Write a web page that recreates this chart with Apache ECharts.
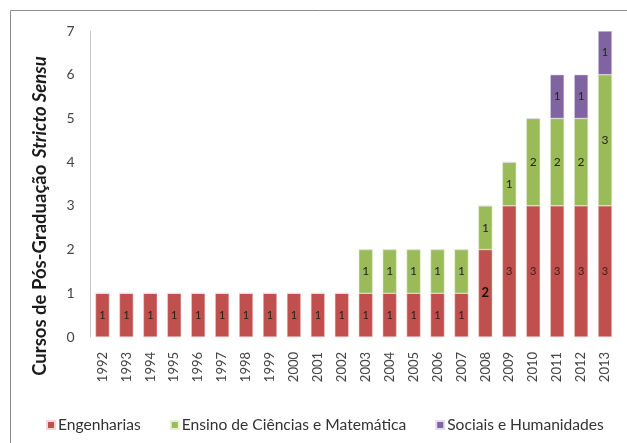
<!DOCTYPE html>
<html>
<head>
<meta charset="utf-8">
<script src="https://cdn.jsdelivr.net/npm/echarts@6/dist/echarts.min.js"></script>
<style>html,body{margin:0;padding:0;background:#fff;}#c{width:627px;height:443px;}</style>
</head>
<body>
<div id="c"></div>
<script>
var years = ['1992','1993','1994','1995','1996','1997','1998','1999','2000','2001','2002','2003','2004','2005','2006','2007','2008','2009','2010','2011','2012','2013'];
var engenharias = [1,1,1,1,1,1,1,1,1,1,1,1,1,1,1,1,2,3,3,3,3,3];
var ensino = [0,0,0,0,0,0,0,0,0,0,0,1,1,1,1,1,1,1,2,2,2,3];
var sociais = [0,0,0,0,0,0,0,0,0,0,0,0,0,0,0,0,0,0,0,1,1,1];
var seriesNames = ['Engenharias','Ensino de Ciências e Matemática','Sociais e Humanidades'];
var yTicks = [0,1,2,3,4,5,6,7];

var chart = echarts.init(document.getElementById('c'));
var font = 'Lato, "Liberation Sans", sans-serif';
function lbl(size){
  return {show:true, position:'inside', fontSize:size||11, color:'#222', fontFamily:font,
    formatter:function(p){return p.value ? String(p.value) : '';}};
}
var engData = engenharias.map(function(v,i){
  if (years[i]==='2008') return {value:v, label:{fontWeight:'bold', fontSize:13, color:'#111'}};
  if (v===3) return {value:v, label:{color:'#3e1b1a'}};
  return v;
});
chart.setOption({
  animation:false,
  grid:{left:90.5, right:10, top:31, bottom:106, containLabel:false},
  legend:{
    left:41, top:412, itemWidth:8, itemHeight:8, itemGap:29, icon:'rect',
    textStyle:{fontSize:15.6, color:'#333', fontFamily:font, padding:[0,0,0,-2]},
    data:seriesNames
  },
  xAxis:{
    type:'category', data:years,
    axisLine:{show:false}, axisTick:{show:false},
    axisLabel:{rotate:90, margin:15, fontSize:13, color:'#444', fontFamily:font}
  },
  yAxis:{
    type:'value', min:0, max:7, interval:1,
    splitLine:{show:false},
    axisLine:{show:true, lineStyle:{color:'#c8c8c8', width:1}},
    axisTick:{show:false},
    axisLabel:{margin:16, fontSize:14, color:'#444', fontFamily:font,
      formatter:function(v){return yTicks.indexOf(v)>=0 ? String(v) : '';}}
  },
  series:[
    {name:seriesNames[0], type:'bar', stack:'t', barWidth:'58%', data:engData,
     itemStyle:{color:'#C0504D', borderColor:'#f3d6d5', borderWidth:0.5}, label:lbl(11)},
    {name:seriesNames[1], type:'bar', stack:'t', barWidth:'58%', data:ensino,
     itemStyle:{color:'#9BBB59', borderColor:'#e6efd6', borderWidth:0.5}, label:lbl(12)},
    {name:seriesNames[2], type:'bar', stack:'t', barWidth:'58%', data:sociais,
     itemStyle:{color:'#8064A2', borderColor:'#e2dbea', borderWidth:0.5}, label:lbl(11)}
  ],
  graphic:[
    {type:'rect', silent:true, shape:{x:10.5, y:10.5, width:700, height:500},
     style:{fill:'none', stroke:'#8c8c8c', lineWidth:1}},
    {type:'text', silent:true, x:40, y:216, rotation:Math.PI/2,
     style:{
       text:'{a|Cursos de Pós-Graduação}  {b|Stricto Sensu}',
       align:'center', verticalAlign:'middle',
       rich:{
         a:{fontSize:18.5, fontWeight:'bold', fontFamily:font, fill:'#1a1a1a'},
         b:{fontSize:18.5, fontWeight:'bold', fontStyle:'italic', fontFamily:font, fill:'#1a1a1a'}
       }
     }}
  ]
});
</script>
</body>
</html>
